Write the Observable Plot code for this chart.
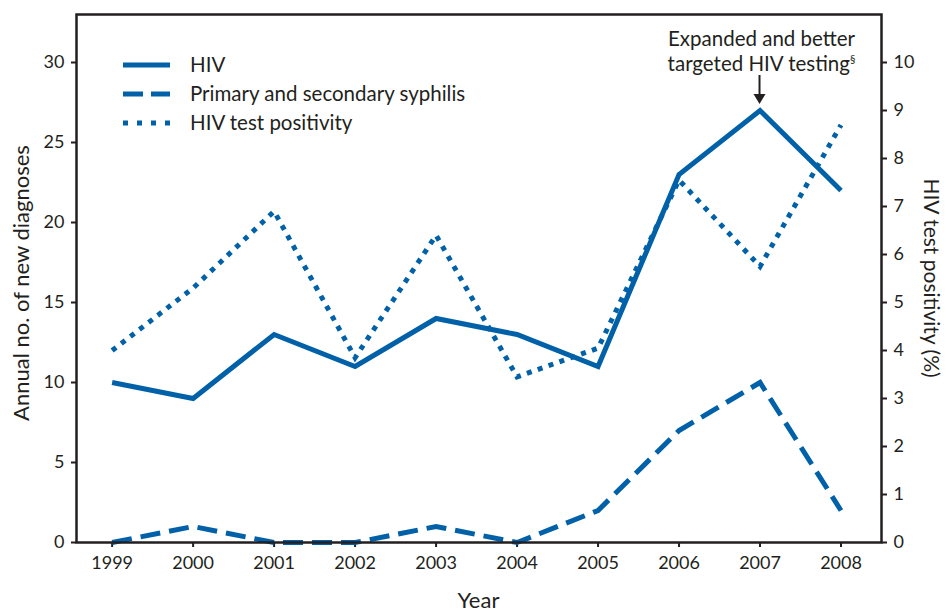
<!DOCTYPE html>
<html>
<head>
<meta charset="utf-8">
<script src="https://cdn.jsdelivr.net/npm/d3@7"></script>
<script src="https://cdn.jsdelivr.net/npm/@observablehq/plot@0.6"></script>
<style>
  html, body { margin: 0; padding: 0; background: #fff; }
  #chart svg { display: block; }
</style>
</head>
<body>
<div id="chart"></div>
<script>
// ---- Data ----
const years = [1999, 2000, 2001, 2002, 2003, 2004, 2005, 2006, 2007, 2008];
const hivDiagnoses = [10, 9, 13, 11, 14, 13, 11, 23, 27, 22];
const syphilisDiagnoses = [0, 1, 0, 0, 1, 0, 2, 7, 10, 2];
const testPositivity = [4.0, 5.3, 6.9, 3.85, 6.4, 3.45, 4.05, 7.55, 5.75, 8.7];
const leftTicks = [0, 5, 10, 15, 20, 25, 30];
const rightTicks = [0, 1, 2, 3, 4, 5, 6, 7, 8, 9, 10];
const seriesNames = ["HIV", "Primary and secondary syphilis", "HIV test positivity"];
const annotationLines = ["Expanded and better", "targeted HIV testing"];
const annotationYear = 2007;

const BLUE = "#0061a8";
const INK = "#231f20";
const FONT = "Lato, 'Open Sans', sans-serif";
const ratio = 3; // right axis (%) to left axis (count)

const rows = years.map((year, i) => ({
  year,
  hiv: hivDiagnoses[i],
  syph: syphilisDiagnoses[i],
  pos: testPositivity[i]
}));

const lineStyle = {
  stroke: BLUE, strokeWidth: 5, strokeLinejoin: "miter",
  strokeMiterlimit: 4, strokeLinecap: "butt"
};

const plot = Plot.plot({
  width: 946,
  height: 612,
  marginLeft: 76,
  marginRight: 65,
  marginTop: 14,
  marginBottom: 70,
  style: { fontFamily: FONT, fontSize: "18px", color: INK, background: "#fff" },
  x: { domain: [1998.56, 2008.5] },
  y: { domain: [0, 33] },
  marks: [
    Plot.axisX(years, { tickFormat: d => String(d), tickSize: 5, tickPadding: 9, strokeWidth: 2, label: null, fontSize: 18 }),
    Plot.axisY(leftTicks, { anchor: "left", tickSize: 5, tickPadding: 7, strokeWidth: 2, label: null, fontSize: 18 }),
    Plot.axisY(rightTicks.map(v => v * ratio), { anchor: "right", tickSize: 5, tickPadding: 7, strokeWidth: 2, tickFormat: v => String(Math.round(v / ratio)), label: null, fontSize: 18 }),
    Plot.line(rows, { x: "year", y: "syph", ...lineStyle, strokeDasharray: "20,9" }),
    Plot.line(rows, { x: "year", y: d => d.pos * ratio, ...lineStyle, strokeDasharray: "5,6.5" }),
    Plot.line(rows, { x: "year", y: "hiv", ...lineStyle }),
    Plot.frame({ stroke: INK, strokeWidth: 2.5 })
  ]
});

document.getElementById("chart").appendChild(plot);

// ---- Titles, legend, annotation (positioned with the plot's own scales) ----
const svg = d3.select(plot);
const xs = plot.scale("x");
const ys = plot.scale("y");
const x0 = xs.range[0], x1 = xs.range[1];
const yBottom = ys.range[0], yTop = ys.range[1];

// Axis titles
svg.append("text")
  .attr("x", (x0 + x1) / 2).attr("y", 608)
  .attr("text-anchor", "middle")
  .style("font-family", FONT).style("font-size", "22px").attr("fill", INK)
  .text("Year");

svg.append("text")
  .attr("transform", `translate(28.5,${(yBottom + yTop) / 2 + 5}) rotate(-90)`)
  .attr("text-anchor", "middle")
  .style("font-family", FONT).style("font-size", "22px").attr("fill", INK)
  .text("Annual no. of new diagnoses");

svg.append("text")
  .attr("transform", `translate(924,${(yBottom + yTop) / 2}) rotate(90)`)
  .attr("text-anchor", "middle")
  .style("font-family", FONT).style("font-size", "21px").attr("fill", INK)
  .text("HIV test positivity (%)");

// Legend
const legend = svg.append("g");
seriesNames.forEach((name, i) => {
  const y = 65 + i * 29;
  legend.append("line")
    .attr("x1", 123).attr("x2", 170).attr("y1", y).attr("y2", y)
    .attr("stroke", BLUE).attr("stroke-width", 5)
    .attr("stroke-dasharray", i === 1 ? "20,8" : i === 2 ? "5,9" : null);
  legend.append("text")
    .attr("x", 190).attr("y", y + 7)
    .attr("text-anchor", "start")
    .style("font-family", FONT).style("font-size", "20.5px").attr("fill", INK)
    .text(name);
});

// Annotation
const ai = years.indexOf(annotationYear);
const ax = xs.apply(annotationYear);
const ay = ys.apply(hivDiagnoses[ai]);
const ann = svg.append("text")
  .attr("text-anchor", "middle")
  .style("font-family", FONT).style("font-size", "20.5px").attr("fill", INK);
ann.append("tspan").attr("x", ax + 2).attr("y", 45.5).text(annotationLines[0]);
ann.append("tspan").attr("x", ax + 2).attr("y", 70.5).text(annotationLines[1]);
ann.append("tspan").attr("dy", -8).style("font-size", "11px").text("§");

const tipY = ay - 6;
svg.append("line")
  .attr("x1", ax).attr("x2", ax).attr("y1", 75).attr("y2", tipY - 8)
  .attr("stroke", INK).attr("stroke-width", 2);
svg.append("path")
  .attr("d", `M${ax - 6},${tipY - 10} L${ax + 6},${tipY - 10} L${ax},${tipY} Z`)
  .attr("fill", INK);
</script>
</body>
</html>
